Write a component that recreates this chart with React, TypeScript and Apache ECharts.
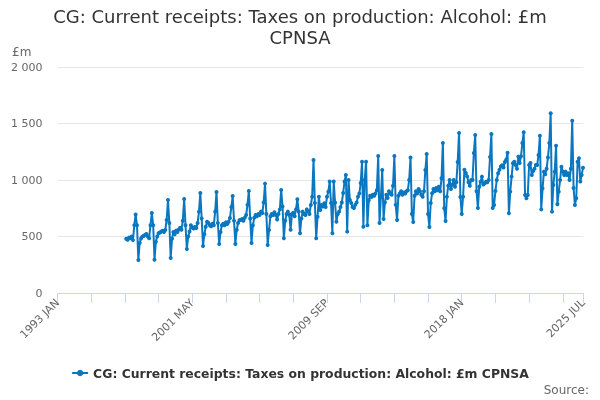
import React, { useEffect, useRef } from "react";
import * as echarts from "echarts";

const MONTHS = ["JAN", "FEB", "MAR", "APR", "MAY", "JUN", "JUL", "AUG", "SEP", "OCT", "NOV", "DEC"];
const FIRST_YEAR = 1993;
const LAST_YEAR = 2025;
const LAST_MONTH = "JUL";
const DATA_START = "1997 APR";

const categories: string[] = [];
for (let y = FIRST_YEAR; y <= LAST_YEAR; y++) {
  for (const m of MONTHS) {
    categories.push(`${y} ${m}`);
    if (y === LAST_YEAR && m === LAST_MONTH) break;
  }
}

const xTickLabels = ["1993 JAN", "2001 MAY", "2009 SEP", "2018 JAN", "2025 JUL"];
const yTicks = [0, 500, 1000, 1500, 2000];

const SERIES_NAME = "CG: Current receipts: Taxes on production: Alcohol: £m CPNSA";
const TITLE = "CG: Current receipts: Taxes on production: Alcohol: £m\nCPNSA";

// £m, monthly, from 1997 APR
const v1997 = [480, 472, 490, 485, 500, 468, 600, 695, 600];
const v1998 = [292, 445, 482, 500, 505, 515, 522, 500, 484, 600, 708, 600];
const v1999 = [295, 454, 500, 528, 536, 543, 550, 540, 558, 646, 823, 620];
const v2000 = [310, 480, 540, 520, 552, 540, 562, 578, 560, 640, 832, 600];
const v2001 = [390, 500, 545, 600, 580, 570, 585, 575, 620, 720, 885, 660];
const v2002 = [416, 520, 587, 631, 620, 600, 590, 612, 600, 720, 894, 620];
const v2003 = [434, 540, 600, 612, 600, 625, 610, 630, 664, 760, 858, 640];
const v2004 = [434, 560, 620, 645, 646, 655, 640, 665, 690, 780, 903, 660];
const v2005 = [442, 600, 665, 690, 680, 700, 690, 720, 708, 800, 968, 700];
const v2006 = [425, 558, 680, 700, 690, 715, 690, 650, 700, 740, 912, 765];
const v2007 = [484, 640, 700, 720, 690, 560, 700, 710, 680, 740, 830, 720];
const v2008 = [528, 660, 720, 700, 690, 740, 720, 700, 779, 852, 1177, 796];
const v2009 = [484, 675, 852, 735, 779, 765, 794, 760, 852, 897, 986, 796];
const v2010 = [528, 986, 800, 631, 700, 720, 760, 800, 885, 986, 1044, 543];
const v2011 = [1000, 823, 796, 760, 752, 780, 800, 852, 880, 973, 1162, 587];
const v2012 = [1000, 1162, 600, 820, 860, 850, 870, 860, 880, 910, 1212, 620];
const v2013 = [850, 1088, 655, 800, 870, 840, 900, 880, 870, 950, 1212, 780];
const v2014 = [646, 860, 880, 900, 870, 890, 880, 900, 910, 1000, 1200, 700];
const v2015 = [628, 860, 900, 880, 920, 900, 870, 852, 900, 1088, 1230, 700];
const v2016 = [584, 796, 882, 920, 900, 930, 910, 940, 900, 1015, 1327, 750];
const v2017 = [637, 852, 950, 1000, 920, 960, 1000, 940, 980, 1160, 1416, 850];
const v2018 = [699, 852, 1091, 1062, 1032, 980, 950, 1000, 1000, 1239, 1398, 900];
const v2019 = [752, 941, 985, 1030, 960, 970, 985, 980, 1000, 1204, 1407, 752];
const v2020 = [779, 903, 1000, 1060, 1090, 1120, 1130, 1110, 1160, 1180, 1241, 705];
const v2021 = [897, 1030, 1148, 1162, 1133, 1100, 1207, 1150, 1210, 1327, 1422, 867];
const v2022 = [838, 867, 1133, 1150, 1044, 1080, 1100, 1133, 1133, 1221, 1392, 740];
const v2023 = [926, 1074, 1050, 1100, 1200, 1327, 1590, 720, 956, 1074, 1303, 785];
const v2024 = [897, 1000, 1118, 1074, 1044, 1074, 1044, 1060, 1000, 1100, 1525, 929];
const v2025 = [779, 838, 1162, 1192, 986, 1044, 1109];

const observed = [
  ...v1997, ...v1998, ...v1999, ...v2000, ...v2001, ...v2002, ...v2003, ...v2004,
  ...v2005, ...v2006, ...v2007, ...v2008, ...v2009, ...v2010, ...v2011, ...v2012,
  ...v2013, ...v2014, ...v2015, ...v2016, ...v2017, ...v2018, ...v2019, ...v2020,
  ...v2021, ...v2022, ...v2023, ...v2024, ...v2025,
];
const startIndex = categories.indexOf(DATA_START);
const seriesData: (number | null)[] = categories.map((_, i) =>
  i < startIndex ? null : observed[i - startIndex] ?? null
);

const FONT = "DejaVu Sans";
const LINE_COLOR = "#0a77c0";

function fmtY(v: number): string {
  if (v >= 1000) {
    const th = Math.floor(v / 1000);
    const rest = String(v % 1000).padStart(3, "0");
    return `${th} ${rest}`;
  }
  return String(v);
}

export default function App() {
  const ref = useRef<HTMLDivElement>(null);
  useEffect(() => {
    document.body.style.margin = "0";
    const chart = echarts.init(ref.current!, null, { renderer: "svg" });
    const last = categories.length - 1;
    chart.setOption({
      animation: false,
      textStyle: { fontFamily: FONT },
      title: {
        text: TITLE,
        left: "center",
        top: 1,
        textStyle: { fontFamily: FONT, fontSize: 18, fontWeight: "normal", color: "#333", lineHeight: 21 },
      },
      grid: { left: 57.5, right: 17, top: 67, bottom: 107, containLabel: false, outerBoundsMode: "none" },
      legend: {
        left: "center",
        top: 362,
        itemWidth: 16,
        itemHeight: 8,
        itemGap: 10,
        textStyle: { fontFamily: FONT, fontSize: 12.4, fontWeight: "bold", color: "#333" },
        data: [SERIES_NAME],
      },
      xAxis: {
        type: "category",
        data: categories,
        boundaryGap: false,
        axisLine: { lineStyle: { color: "#ccd6eb" } },
        axisTick: {
          length: 10,
          interval: (i: number) => i % 25 === 0 || i === last,
          lineStyle: { color: "#ccd6eb" },
        },
        axisLabel: {
          interval: (_i: number, v: string) => xTickLabels.includes(v),
          rotate: 45,
          color: "#666",
          fontSize: 11,
          fontFamily: FONT,
          margin: 8,
        },
        splitLine: { show: false },
      },
      yAxis: {
        type: "value",
        min: yTicks[0],
        max: yTicks[yTicks.length - 1],
        interval: yTicks[1] - yTicks[0],
        axisLine: { show: false },
        axisTick: { show: false },
        axisLabel: { formatter: (v: number) => fmtY(v), color: "#666", fontSize: 11, fontFamily: FONT, margin: 15 },
        splitLine: { lineStyle: { color: "#e6e6e6" } },
      },
      graphic: [
        { type: "text", left: 12, top: 46, style: { text: "£m", fill: "#666", font: `12px "${FONT}"` } },
        { type: "text", right: 11, top: 384, style: { text: "Source:", fill: "#666", font: `12px "${FONT}"` } },
      ],
      series: [
        {
          name: SERIES_NAME,
          type: "line",
          data: seriesData,
          symbol: "circle",
          symbolSize: 4,
          showSymbol: true,
          showAllSymbol: true,
          connectNulls: false,
          lineStyle: { width: 2, color: LINE_COLOR },
          itemStyle: { color: LINE_COLOR },
          emphasis: { disabled: true },
        },
      ],
    });
    return () => chart.dispose();
  }, []);
  return <div ref={ref} style={{ position: "fixed", left: 0, top: 0, width: 600, height: 400 }} />;
}
